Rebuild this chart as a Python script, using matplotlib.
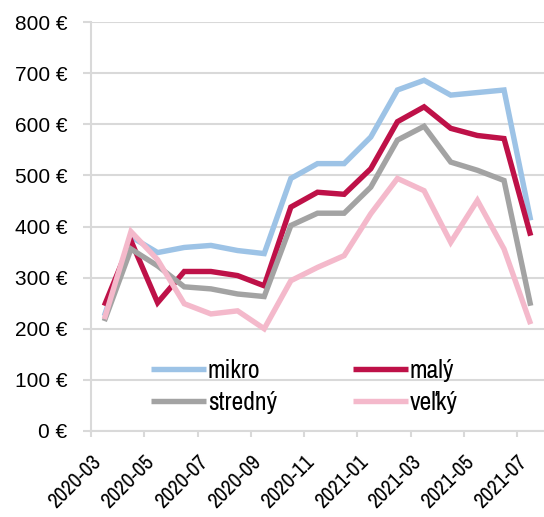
import numpy as np
import matplotlib
matplotlib.use('Agg')
import matplotlib.pyplot as plt
from matplotlib.transforms import ScaledTranslation

months = ['2020-03', '2020-04', '2020-05', '2020-06', '2020-07', '2020-08',
          '2020-09', '2020-10', '2020-11', '2020-12', '2021-01', '2021-02',
          '2021-03', '2021-04', '2021-05', '2021-06', '2021-07']

mikro   = [225, 380, 349, 359, 363, 353, 347, 494, 523, 523, 575, 667, 686, 657, 662, 667, 412]
maly    = [245, 372, 251, 312, 312, 304, 284, 438, 467, 463, 513, 605, 634, 592, 578, 572, 382]
stredny = [215, 356, 323, 282, 278, 268, 263, 402, 426, 426, 477, 569, 596, 526, 510, 490, 245]
velky   = [219, 390, 335, 249, 229, 235, 200, 294, 320, 343, 425, 494, 470, 369, 451, 356, 209]

y_ticks = [0, 100, 200, 300, 400, 500, 600, 700, 800]

plt.rcParams['font.family'] = ['Liberation Sans', 'DejaVu Sans']
narrow = ['Liberation Sans Narrow', 'Arimo Narrow', 'Archivo Narrow',
          'PT Sans Narrow', 'Roboto Condensed', 'Liberation Sans']

fig = plt.figure(figsize=(5.44, 5.17), dpi=100)
ax = fig.add_axes([91 / 544, 1 - 431 / 517, 453 / 544, 409 / 517])

x = np.arange(len(months))
lw = 3.9
series = [
    ('mikro', mikro, '#9DC3E6'),
    ('malý', maly, '#BE1148'),
    ('stredný', stredny, '#A3A3A3'),
    ('veľký', velky, '#F4B9CB'),
]
handles = {}
for name, vals, col in series:
    h, = ax.plot(x, vals, color=col, lw=lw, solid_joinstyle='miter',
                 solid_capstyle='butt', label=name)
    handles[name] = h

ax.set_xlim(-0.5, len(months) - 0.5)
ax.set_ylim(0, 800)
ax.set_yticks(y_ticks)
ax.set_yticklabels([f'{v} €' for v in y_ticks])

# ticks sit on month boundaries, every second month
tick_pos = x[::2] - 0.5
ax.set_xticks(tick_pos)
ax.set_xticklabels(months[::2], rotation=45, ha='right', va='top',
                   rotation_mode='anchor', family=narrow, fontsize=15.5)
offset = ScaledTranslation(0.205, 0, fig.dpi_scale_trans)
for lab in ax.get_xticklabels():
    lab.set_transform(lab.get_transform() + offset)

grid_col = '#D9D9D9'
ax.grid(axis='y', color=grid_col, lw=1.5)
ax.set_axisbelow(True)
for s in ['top', 'right']:
    ax.spines[s].set_visible(False)
for s in ['left', 'bottom']:
    ax.spines[s].set_color(grid_col)
    ax.spines[s].set_linewidth(1.5)

ax.tick_params(axis='y', length=6, width=1.5, color=grid_col, pad=11,
               labelsize=15)
ax.tick_params(axis='x', length=4.5, width=1.5, color=grid_col, pad=10)

order = ['mikro', 'stredný', 'malý', 'veľký']
ax.legend([handles[n] for n in order], order, ncol=2, loc='center',
          bbox_to_anchor=(0.471, 0.109), frameon=False,
          prop={'family': narrow, 'size': 18.5},
          handlelength=2.14, handletextpad=0.08, columnspacing=2.96,
          labelspacing=0.34)

fig.savefig('out.png', dpi=100)
